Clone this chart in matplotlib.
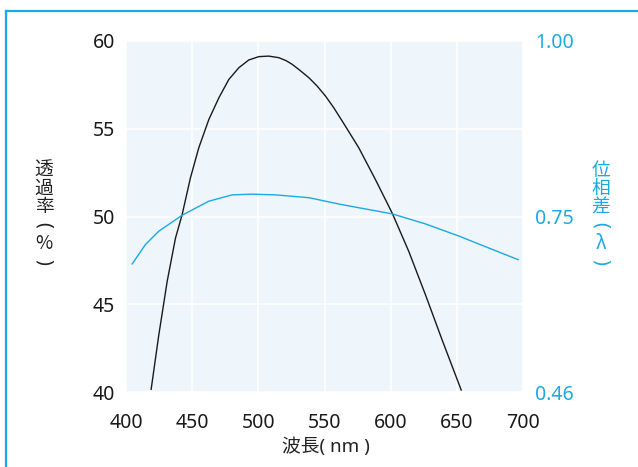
import matplotlib.pyplot as plt
from matplotlib.lines import Line2D
import numpy as np

plt.rcParams['font.family'] = ['Noto Sans', 'Noto Sans CJK JP', 'DejaVu Sans']

# 透過率 (%) - 左軸
wl_t = [419.0, 424.8, 431.1, 437.4, 442.4, 448.7, 455.0, 462.6, 470.2, 477.7,
        485.3, 492.8, 500.4, 507.9, 515.5, 521.0, 525.6, 530.6, 538.2, 544.5,
        550.8, 557.0, 563.4, 569.5, 575.9, 588.5, 601.1, 613.7, 626.3, 638.9,
        653.3]
trans = [40.17, 43.27, 46.31, 48.78, 50.11, 52.21, 53.92, 55.53, 56.77, 57.81,
         58.48, 58.92, 59.11, 59.14, 59.05, 58.88, 58.67, 58.38, 57.91, 57.43,
         56.86, 56.20, 55.44, 54.70, 53.92, 52.11, 50.21, 48.02, 45.55, 42.98,
         40.13]

# 位相差 (λ) - 右軸
wl_p = [404.7, 414.7, 424.8, 442.4, 462.6, 480.2, 495.3, 513.0, 538.2,
        563.4, 601.1, 626.3, 651.5, 676.7, 696.3]
phase = [0.672, 0.704, 0.726, 0.752, 0.772, 0.781, 0.782, 0.781, 0.777,
         0.767, 0.754, 0.738, 0.718, 0.696, 0.679]

x_ticks = [400, 450, 500, 550, 600, 650, 700]
y_ticks = [40, 45, 50, 55, 60]
r_ticks = [0.46, 0.75, 1.00]

blue = '#1aaae3'

# 右軸は 0.46-0.75 と 0.75-1.00 で目盛間隔が違う
def fwd(v):
    v = np.asarray(v, dtype=float)
    return np.where(v < 0.75, (v - 0.46) / 0.29 * 0.5, 0.5 + (v - 0.75) / 0.25 * 0.5)

def inv(u):
    u = np.asarray(u, dtype=float)
    return np.where(u < 0.5, 0.46 + u / 0.5 * 0.29, 0.75 + (u - 0.5) / 0.5 * 0.25)

# 縦書き: 一文字ずつ置く (括弧は90度回す)
def tategaki(x_px, s, color):
    pitch = 18.3
    for i, ch in enumerate(s):
        y_px = 216 + (i - (len(s) - 1) / 2) * pitch
        if ch in '()':
            fig.text(x_px / 638, 1 - y_px / 467, ch, ha='center', va='center',
                     fontsize=14, color=color, rotation=-90, family='Noto Sans')
        else:
            fig.text(x_px / 638, 1 - y_px / 467, ch, ha='center', va='center',
                     fontsize=13.5, color=color,
                     family=['Noto Sans CJK JP', 'DejaVu Sans'])

fig = plt.figure(figsize=(6.38, 4.67), dpi=100)
ax = fig.add_axes([126 / 638, 1 - 392.3 / 467, 397 / 638, 351.3 / 467])
ax.set_facecolor('#eef5fb')
for s in ax.spines.values():
    s.set_visible(False)
ax.set_xlim(400, 700)
ax.set_ylim(40, 60)
ax.set_xticks(x_ticks)
ax.set_yticks(y_ticks)
ax.grid(True, color='white', linewidth=1.1)
ax.set_axisbelow(True)
ax.tick_params(length=0, labelsize=14, colors='#1a1a1a')
ax.tick_params(axis='x', pad=15)
ax.tick_params(axis='y', pad=8)
ax.plot(wl_t, trans, color='#1a1a1a', linewidth=1)

ax2 = ax.twinx()
ax2.set_yscale('function', functions=(fwd, inv))
ax2.set_ylim(0.46, 1.00)
ax2.set_yticks(r_ticks)
ax2.set_yticklabels(['%.2f' % t for t in r_ticks])
for s in ax2.spines.values():
    s.set_visible(False)
ax2.tick_params(length=0, labelsize=14, colors=blue, pad=9)
ax2.plot(wl_p, phase, color=blue, linewidth=1)

tategaki(44, '透過率(%)', '#222222')
tategaki(601, '位相差(λ)', blue)
fig.text(326 / 638, 1 - 447 / 467, '波長( nm )', ha='center', va='center',
         fontsize=13.5, color='#222222')

# 外枠
fig.add_artist(Line2D([6 / 638, 6 / 638], [0, 1 - 11 / 467], color=blue, linewidth=1.6))
fig.add_artist(Line2D([6 / 638, 1], [1 - 11 / 467, 1 - 11 / 467], color=blue, linewidth=1.6))

fig.savefig('out.png', dpi=100)
